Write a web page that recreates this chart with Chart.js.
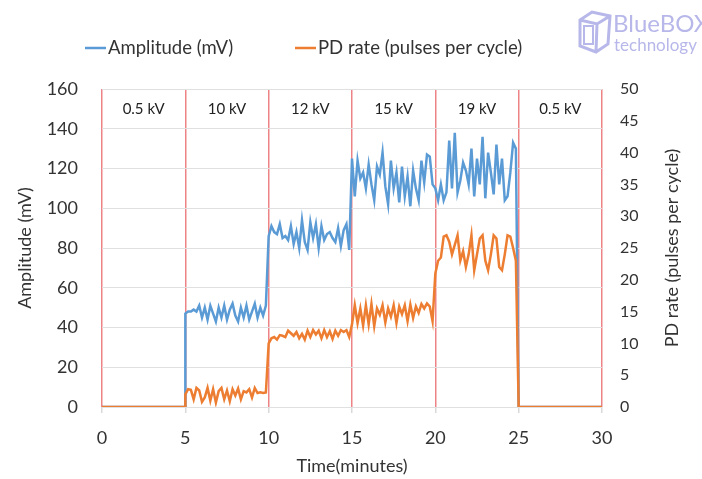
<!DOCTYPE html>
<html>
<head>
<meta charset="utf-8">
<script src="https://cdn.jsdelivr.net/npm/chart.js@4.4.1/dist/chart.umd.min.js"></script>
<style>
  html, body { margin: 0; padding: 0; background: #fff; }
  #wrap { width: 702px; height: 479px; }
</style>
</head>
<body>
<div id="wrap"><canvas id="pdchart" width="702" height="479"></canvas></div>
<script>
// stages of the test, minutes
const stageBounds = [0, 5, 10, 15, 20, 25, 30];
const stageLabels = ["0.5 kV", "10 kV", "12 kV", "15 kV", "19 kV", "0.5 kV"];
const sampleStep = 5 / 30; // minutes between readings

// amplitude (mV) readings for the energised stages
const amp10kV = [47, 48, 48, 49, 48, 51, 45, 50, 44, 51, 47, 43, 50, 45, 51,
  44, 49, 52, 46, 43, 50, 45, 51, 44, 48, 52, 45, 50, 46, 51];
const amp12kV = [86, 91, 88, 87, 92, 85, 86, 84, 91, 82, 88, 80, 94, 83, 79,
  93, 85, 92, 80, 91, 84, 87, 88, 85, 83, 90, 81, 89, 92, 79];
const amp15kV = [125, 106, 124, 115, 118, 110, 122, 112, 104, 121, 117, 128, 111, 102, 124,
  110, 118, 103, 121, 106, 116, 101, 119, 110, 104, 124, 113, 127, 126, 112];
const amp19kV = [110, 104, 112, 104, 108, 134, 110, 138, 108, 114, 123, 119, 112, 130, 106,
  125, 112, 136, 105, 128, 118, 107, 132, 112, 125, 104, 106, 118, 133, 130];

// PD rate (pulses per cycle) readings
const pd10kV = [2, 2.8, 2.7, 1.2, 3, 2.6, 0.8, 1.5, 3, 1, 2.8, 0.7, 2.5, 3, 1.2,
  2.6, 0.9, 2.8, 1.8, 2.9, 1.2, 2.5, 2.3, 2.8, 1.5, 3, 2.2, 2.3, 2.2, 2.3];
const pd12kV = [10, 10.8, 11, 10.6, 11.3, 11.2, 11, 12, 11.6, 11.2, 11.8, 10.8, 11.5, 10.6, 12,
  11, 12.1, 11.4, 12, 10.8, 12.1, 11, 11.9, 10.7, 12, 11.2, 12.1, 11.8, 12.1, 11];
const pd15kV = [13, 16, 13.2, 15.5, 12.8, 16, 13, 16.2, 12.7, 15.5, 14.5, 16, 13.3, 15.5, 14.2,
  16, 13.2, 15.8, 14.6, 16, 13.5, 16.1, 14, 15.8, 14.8, 16.2, 15.5, 16.3, 15.8, 13.5];
const pd19kV = [21, 23, 23.5, 26.8, 27, 26, 24, 25.5, 27, 23, 24.5, 22, 24, 27, 21.5,
  24, 26.5, 27, 23, 21.5, 24, 27, 26.5, 22, 21.5, 24, 27, 26.8, 25, 23];

const xTicks = [0, 5, 10, 15, 20, 25, 30];

const blue = "#5B9BD5";
const orange = "#ED7D31";
const fontFam = "Lato, 'Open Sans', sans-serif";

// zero before and after the energised stages
function buildSeries(stages) {
  const pts = [{ x: 0, y: 0 }, { x: 5, y: 0 }];
  stages.forEach(function (vals, s) {
    const start = stageBounds[s + 1];
    vals.forEach(function (v, i) {
      pts.push({ x: start + i * sampleStep, y: v });
    });
  });
  pts.push({ x: 25, y: 0 }, { x: 30, y: 0 });
  return pts;
}

const extras = {
  id: "extras",
  afterDraw(chart) {
    const ctx = chart.ctx;
    const xs = chart.scales.x;
    const yl = chart.scales.y;
    const area = chart.chartArea;
    ctx.save();

    // voltage label over each stage
    ctx.font = "15px " + fontFam;
    ctx.fillStyle = "#222";
    ctx.textAlign = "center";
    ctx.textBaseline = "middle";
    stageLabels.forEach(function (lbl, i) {
      const cx = (xs.getPixelForValue(stageBounds[i]) + xs.getPixelForValue(stageBounds[i + 1])) / 2;
      ctx.fillText(lbl, cx, yl.getPixelForValue(150));
    });

    // right axis title reads bottom to top
    ctx.save();
    ctx.font = "18px " + fontFam;
    ctx.fillStyle = "#333";
    ctx.translate(672, (area.top + area.bottom) / 2);
    ctx.rotate(-Math.PI / 2);
    ctx.fillText("PD rate (pulses per cycle)", 0, 0);
    ctx.restore();

    // legend
    ctx.font = "18.5px " + fontFam;
    ctx.fillStyle = "#333";
    ctx.textAlign = "left";
    ctx.lineWidth = 2.5;
    [[blue, "Amplitude (mV)", 85], [orange, "PD rate (pulses per cycle)", 295]].forEach(function (it) {
      ctx.strokeStyle = it[0];
      ctx.beginPath();
      ctx.moveTo(it[2], 48);
      ctx.lineTo(it[2] + 21, 48);
      ctx.stroke();
      ctx.fillText(it[1], it[2] + 23, 48);
    });

    // logo
    const lc = "#B7B7EA";
    ctx.strokeStyle = lc;
    ctx.lineWidth = 3;
    ctx.beginPath();
    ctx.moveTo(580, 20); ctx.lineTo(592, 12); ctx.lineTo(610, 16); ctx.lineTo(608, 44);
    ctx.lineTo(596, 52); ctx.lineTo(580, 46); ctx.closePath();
    ctx.moveTo(580, 20); ctx.lineTo(597, 24); ctx.lineTo(610, 16);
    ctx.moveTo(597, 24); ctx.lineTo(596, 52);
    ctx.stroke();
    ctx.lineWidth = 2;
    ctx.beginPath();
    ctx.rect(584, 26, 9, 18);
    ctx.stroke();
    ctx.fillStyle = lc;
    ctx.font = "24px " + fontFam;
    ctx.fillText("BlueBOX", 613, 24);
    ctx.font = "17px " + fontFam;
    ctx.fillText("technology", 614, 46);
    ctx.restore();
  }
};

new Chart(document.getElementById("pdchart").getContext("2d"), {
  type: "line",
  data: {
    datasets: [
      {
        label: "Amplitude (mV)",
        data: buildSeries([amp10kV, amp12kV, amp15kV, amp19kV]),
        borderColor: blue,
        backgroundColor: blue,
        borderWidth: 2.5,
        pointRadius: 0,
        yAxisID: "y",
        order: 1
      },
      {
        label: "PD rate (pulses per cycle)",
        data: buildSeries([pd10kV, pd12kV, pd15kV, pd19kV]),
        borderColor: orange,
        backgroundColor: orange,
        borderWidth: 2.5,
        pointRadius: 0,
        yAxisID: "y1",
        order: 0
      }
    ]
  },
  options: {
    responsive: false,
    animation: false,
    layout: { padding: { top: 89, left: 0, right: 0, bottom: 0 } },
    plugins: { legend: { display: false }, tooltip: { enabled: false } },
    scales: {
      x: {
        type: "linear",
        min: 0,
        max: 30,
        afterBuildTicks: function (s) { s.ticks = xTicks.map(function (v) { return { value: v }; }); },
        afterFit: function (s) { s.height = 72; },
        grid: { color: "#EE8385", lineWidth: 1.5, tickColor: "#D9D9D9", tickLength: 6 },
        border: { display: false },
        ticks: { font: { family: fontFam, size: 18 }, color: "#333", padding: 14 },
        title: {
          display: true,
          text: "Time(minutes)",
          font: { family: fontFam, size: 18 },
          color: "#333",
          padding: { top: 0, bottom: 2 }
        }
      },
      y: {
        position: "left",
        min: 0,
        max: 160,
        afterFit: function (s) { s.width = 102; },
        ticks: { stepSize: 20, font: { family: fontFam, size: 18 }, color: "#333", padding: 24 },
        grid: { color: "#E0E0E0", drawTicks: false },
        border: { display: false },
        title: {
          display: true,
          text: "Amplitude (mV)",
          font: { family: fontFam, size: 18 },
          color: "#333",
          padding: { top: 14, bottom: 0 }
        }
      },
      y1: {
        position: "right",
        min: 0,
        max: 50,
        afterFit: function (s) { s.width = 100; },
        ticks: { stepSize: 5, font: { family: fontFam, size: 16 }, color: "#333", padding: 18 },
        grid: { drawOnChartArea: false, drawTicks: false },
        border: { display: false }
      }
    }
  },
  plugins: [extras]
});
</script>
</body>
</html>
